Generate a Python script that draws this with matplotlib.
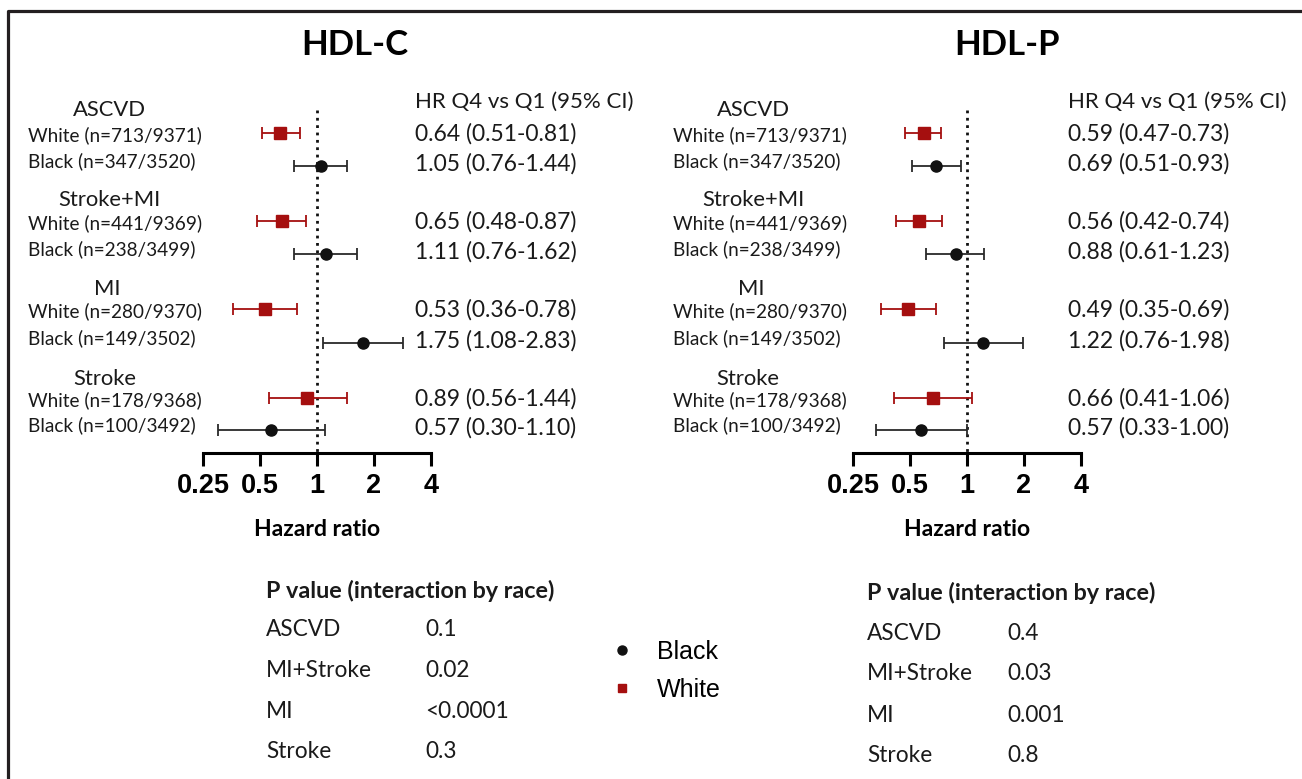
import numpy as np
import matplotlib
matplotlib.use("Agg")
import matplotlib.pyplot as plt
from matplotlib.lines import Line2D

W, H = 1302, 779
RED = "#a50f0f"
BLK = "#111111"
TXT = "#1a1a1a"
FONT = "Lato"

# data
outcomes = ["ASCVD", "Stroke+MI", "MI", "Stroke"]
white_events = [713, 441, 280, 178]
white_total = [9371, 9369, 9370, 9368]
black_events = [347, 238, 149, 100]
black_total = [3520, 3499, 3502, 3492]

# HDL-C
hdlc_white_hr = [0.64, 0.65, 0.53, 0.89]
hdlc_white_lo = [0.51, 0.48, 0.36, 0.56]
hdlc_white_hi = [0.81, 0.87, 0.78, 1.44]
hdlc_black_hr = [1.05, 1.11, 1.75, 0.57]
hdlc_black_lo = [0.76, 0.76, 1.08, 0.30]
hdlc_black_hi = [1.44, 1.62, 2.83, 1.10]

# HDL-P
hdlp_white_hr = [0.59, 0.56, 0.49, 0.66]
hdlp_white_lo = [0.47, 0.42, 0.35, 0.41]
hdlp_white_hi = [0.73, 0.74, 0.69, 1.06]
hdlp_black_hr = [0.69, 0.88, 1.22, 0.57]
hdlp_black_lo = [0.51, 0.61, 0.76, 0.33]
hdlp_black_hi = [0.93, 1.23, 1.98, 1.00]

ticks = [0.25, 0.5, 1, 2, 4]
tick_labels = ["0.25", "0.5", "1", "2", "4"]

p_names = ["ASCVD", "MI+Stroke", "MI", "Stroke"]
p_hdlc = ["0.1", "0.02", "<0.0001", "0.3"]
p_hdlp = ["0.4", "0.03", "0.001", "0.8"]

# layout (pixel rows)
white_y = [133, 221, 309, 398]
black_y = [166, 254, 343, 430]
group_y = [110, 200, 289, 379]


def fx(px):
    return px / W


def fy(py):
    return 1 - py / H


fig = plt.figure(figsize=(W / 100, H / 100), dpi=100)

# frame lines
fig.add_artist(Line2D([fx(8), fx(8), 1], [0, fy(11), fy(11)], color="#231f20", lw=2.3))


def panel(x0, x1, label_x, group_cx, hr_x, title, title_cx,
          whr, wlo, whi, bhr, blo, bhi, pvals, p_x, p_vx, p_y0, p_dy):
    ax = fig.add_axes([fx(x0), fy(453), fx(x1) - fx(x0), (453 - 95) / H])
    ax.set_xscale("log", base=2)
    ax.set_xlim(0.25, 4)
    ax.set_ylim(453, 95)
    ax.patch.set_alpha(0)
    for s in ["left", "right", "top"]:
        ax.spines[s].set_visible(False)
    ax.spines["bottom"].set_linewidth(2.2)
    ax.set_yticks([])
    ax.set_xticks(ticks)
    ax.set_xticklabels(tick_labels, fontsize=19.5, fontweight="bold", family="Liberation Sans")
    ax.minorticks_off()
    ax.tick_params(axis="x", direction="out", length=9.5, width=2.2, pad=5)
    ax.set_xlabel("Hazard ratio", fontsize=16.5, fontweight="bold", family=FONT, labelpad=14)

    ax.plot([1, 1], [110, 453], ls=":", color=BLK, lw=2)

    whr, wlo, whi = map(np.array, (whr, wlo, whi))
    bhr, blo, bhi = map(np.array, (bhr, blo, bhi))
    ax.errorbar(whr, white_y, xerr=[whr - wlo, whi - whr], fmt="s", color=RED,
                ms=8, capsize=4, elinewidth=1.3, capthick=1.3)
    ax.errorbar(bhr, black_y, xerr=[bhr - blo, bhi - bhr], fmt="o", color=BLK,
                ecolor="#2a2a2a", ms=8, capsize=4, elinewidth=1.3, capthick=1.3)

    fig.text(fx(title_cx), fy(45), title, ha="center", va="center", fontsize=25,
             fontweight="bold", family=FONT, color="black")
    fig.text(fx(hr_x), fy(102), "HR Q4 vs Q1 (95% CI)", ha="left", va="center",
             fontsize=16, family=FONT, color=TXT)
    for i in range(4):
        fig.text(fx(group_cx[i]), fy(group_y[i]), outcomes[i], ha="center", va="center",
                 fontsize=15.8, family=FONT, color=TXT)
        fig.text(fx(label_x), fy(white_y[i] + 2), f"White (n={white_events[i]}/{white_total[i]})",
                 ha="left", va="center", fontsize=13.7, family=FONT, color=TXT)
        fig.text(fx(label_x), fy(black_y[i] - 5), f"Black (n={black_events[i]}/{black_total[i]})",
                 ha="left", va="center", fontsize=13.7, family=FONT, color=TXT)
        fig.text(fx(hr_x), fy(white_y[i] + 1), f"{whr[i]:.2f} ({wlo[i]:.2f}-{whi[i]:.2f})",
                 ha="left", va="center", fontsize=16.5, family=FONT, color=TXT)
        fig.text(fx(hr_x), fy(black_y[i] - 2), f"{bhr[i]:.2f} ({blo[i]:.2f}-{bhi[i]:.2f})",
                 ha="left", va="center", fontsize=16.5, family=FONT, color=TXT)

    fig.text(fx(p_x), fy(p_y0 - p_dy + 1), "P value (interaction by race)", ha="left", va="center",
             fontsize=16.8, fontweight="bold", family=FONT, color=TXT)
    for i in range(4):
        fig.text(fx(p_x), fy(p_y0 + i * p_dy), p_names[i], ha="left", va="center",
                 fontsize=16.3, family=FONT, color=TXT)
        fig.text(fx(p_vx), fy(p_y0 + i * p_dy), pvals[i], ha="left", va="center",
                 fontsize=16.3, family=FONT, color=TXT)
    return ax


panel(203, 431, 28, [109, 109, 107, 105], 415, "HDL-C", 355,
      hdlc_white_hr, hdlc_white_lo, hdlc_white_hi,
      hdlc_black_hr, hdlc_black_lo, hdlc_black_hi,
      p_hdlc, 266, 425, 630, 40.5)
panel(853, 1081, 673, [753, 753, 751, 748], 1068, "HDL-P", 1007,
      hdlp_white_hr, hdlp_white_lo, hdlp_white_hi,
      hdlp_black_hr, hdlp_black_lo, hdlp_black_hi,
      p_hdlp, 867, 1007, 633, 41)

handles = [Line2D([], [], marker="o", ls="", color=BLK, ms=6.5),
           Line2D([], [], marker="s", ls="", color=RED, ms=5.5)]
fig.legend(handles, ["Black", "White"], loc="upper left", bbox_to_anchor=(fx(609.5), fy(640)),
           frameon=False, borderpad=0, borderaxespad=0, handlelength=1.0,
           handletextpad=0.9, labelspacing=0.55,
           prop={"family": "Liberation Sans", "size": 18})

fig.savefig("out.png", dpi=100)
